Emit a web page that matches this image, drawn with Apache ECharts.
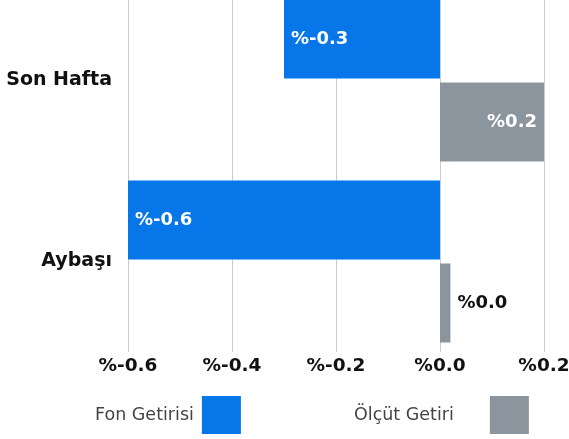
<!DOCTYPE html>
<html>
<head>
<meta charset="utf-8">
<script src="https://cdn.jsdelivr.net/npm/echarts@6/dist/echarts.min.js"></script>
<style>
  html, body { margin: 0; padding: 0; background: #fff; overflow: hidden; }
  /* the chart's top is cut off in the reference, so the box starts above the page */
  #chart { width: 569px; height: 449px; margin-top: -10px; }
</style>
</head>
<body>
<div id="chart"></div>
<script>
const categories = ['Son Hafta', 'Aybaşı']
const seriesNames = ['Fon Getirisi', 'Ölçüt Getiri']
const fonGetirisi = [-0.3, -0.6]
const olcutGetiri = [0.2, 0.02]
const colors = ['#0776e8', '#8b959e']

const font = '"DejaVu Sans", sans-serif'
const fmt = v => '%' + Number(v).toFixed(1)

// small bars get their label outside, in black
function toItems(values) {
  return values.map(v => {
    if (Math.abs(v) < 0.05) {
      return { value: v, label: { position: 'right', color: '#111', distance: 7 } }
    }
    return { value: v, label: { position: v < 0 ? 'insideLeft' : 'insideRight' } }
  })
}

const legendBase = {
  top: 401,
  align: 'right',
  itemWidth: 39,
  itemHeight: 38,
  icon: 'rect',
  selectedMode: false
}

const barLabel = {
  show: true,
  formatter: p => fmt(p.value),
  color: '#fff',
  fontFamily: font,
  fontWeight: 'bold',
  fontSize: 18,
  distance: 7
}

const chart = echarts.init(document.getElementById('chart'))
chart.setOption({
  animation: false,
  textStyle: { fontFamily: font },
  grid: { left: 128, right: 25, top: 0, bottom: 87, outerBoundsMode: 'none' },
  legend: [
    {
      ...legendBase,
      left: 90,
      textStyle: { fontFamily: font, fontSize: 17.5, color: '#444', padding: [5, 3, 0, 0] },
      data: [seriesNames[0]]
    },
    {
      ...legendBase,
      left: 349,
      textStyle: { fontFamily: font, fontSize: 17.5, color: '#444', padding: [5, 31, 0, 0] },
      data: [seriesNames[1]]
    }
  ],
  xAxis: {
    type: 'value',
    min: -0.6,
    max: 0.2,
    interval: 0.2,
    axisLine: { show: false },
    axisTick: { show: false },
    splitLine: { lineStyle: { color: '#cccccc', width: 1 } },
    axisLabel: {
      formatter: fmt,
      fontFamily: font,
      fontWeight: 'bold',
      fontSize: 18.5,
      color: '#111',
      margin: 5
    }
  },
  yAxis: {
    type: 'category',
    inverse: true,
    data: categories,
    axisLine: { show: false },
    axisTick: { show: false },
    axisLabel: {
      fontFamily: font,
      fontWeight: 'bold',
      fontSize: 19,
      color: '#111',
      margin: 16,
      padding: [2, 0, 0, 0]
    }
  },
  series: [
    {
      name: seriesNames[0],
      type: 'bar',
      barGap: '5%',
      barCategoryGap: '10.5%',
      itemStyle: { color: colors[0] },
      label: barLabel,
      data: toItems(fonGetirisi)
    },
    {
      name: seriesNames[1],
      type: 'bar',
      barGap: '5%',
      barCategoryGap: '10.5%',
      itemStyle: { color: colors[1] },
      label: barLabel,
      data: toItems(olcutGetiri)
    }
  ]
})
</script>
</body>
</html>
